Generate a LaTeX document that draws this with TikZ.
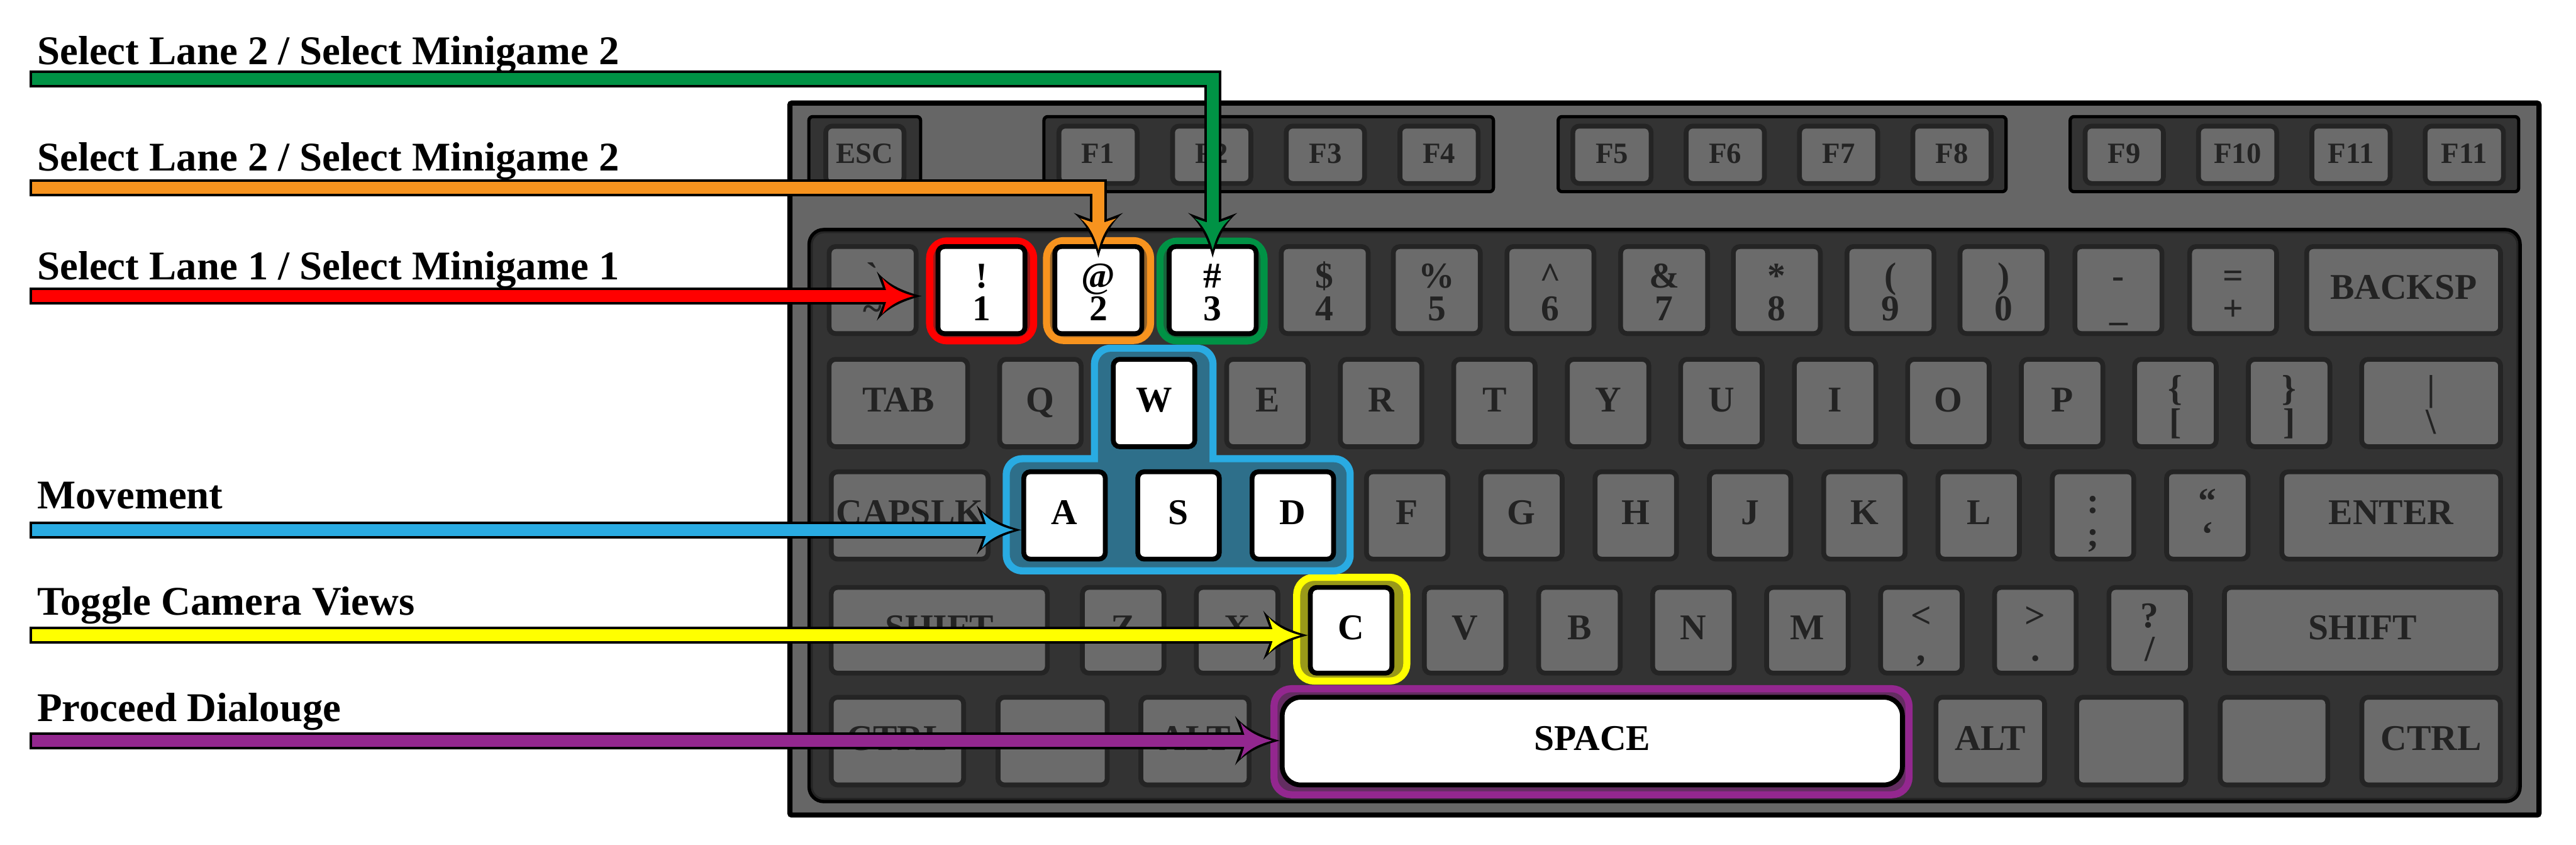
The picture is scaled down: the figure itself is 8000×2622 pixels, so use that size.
\documentclass[tikz,border=0pt]{standalone}
\usepackage{fontspec}
\setmainfont{Liberation Serif}[Ligatures=TeXOff]
\usetikzlibrary{arrows.meta,calc}

\definecolor{kbcase}{HTML}{666666}
\definecolor{kbbg}{HTML}{333333}
\definecolor{kbrim}{HTML}{242424}
\definecolor{kbface}{HTML}{6B6B6B}
\definecolor{kbtext}{HTML}{232323}
\definecolor{kbred}{HTML}{FF0000}
\definecolor{kborange}{HTML}{F7931E}
\definecolor{kbgreen}{HTML}{009245}
\definecolor{kbblue}{HTML}{29ABE2}
\definecolor{kbyellow}{HTML}{FFFF00}
\definecolor{kbpurple}{HTML}{93278F}

\newcommand{\kbfont}{\fontsize{32}{36}\selectfont\bfseries}
\newcommand{\kbsmall}{\fontsize{26}{30}\selectfont\bfseries}
\newcommand{\lblfont}{\fontsize{36}{40}\selectfont\bfseries}
% two symbols on one key
\newcommand{\kbtwo}[2]{\makebox[0pt]{\raisebox{1.03cm}{#1}}\makebox[0pt]{#2}}

% arrow head with curved sides
\newdimen\kbdim
\pgfdeclarearrow{
  name = Barb,
  defaults = {length = 10pt, width = 10pt, inset = 2pt},
  parameters = {\the\pgfarrowlength,\the\pgfarrowwidth,\the\pgfarrowinset},
  setup code = {
    \pgfarrowssettipend{0pt}
    \kbdim=-\pgfarrowlength
    \pgfarrowssetbackend{\kbdim}
    \kbdim=-.6\pgfarrowlength
    \pgfarrowssetlineend{\kbdim}
    \pgfarrowssavethe\pgfarrowlength
    \pgfarrowssavethe\pgfarrowwidth
    \pgfarrowssavethe\pgfarrowinset
  },
  drawing code = {
    \pgfpathmoveto{\pgfqpoint{0pt}{0pt}}
    \pgfpathcurveto
      {\pgfqpoint{-.35\pgfarrowlength}{.08\pgfarrowwidth}}
      {\pgfqpoint{-.75\pgfarrowlength}{.22\pgfarrowwidth}}
      {\pgfqpoint{-\pgfarrowlength}{.5\pgfarrowwidth}}
    \pgfpathlineto{\pgfqpoint{\dimexpr\pgfarrowinset-\pgfarrowlength\relax}{0pt}}
    \pgfpathlineto{\pgfqpoint{-\pgfarrowlength}{-.5\pgfarrowwidth}}
    \pgfpathcurveto
      {\pgfqpoint{-.75\pgfarrowlength}{-.22\pgfarrowwidth}}
      {\pgfqpoint{-.35\pgfarrowlength}{-.08\pgfarrowwidth}}
      {\pgfqpoint{0pt}{0pt}}
    \pgfpathclose
    \pgfusepathqfill
  }
}

\begin{document}
\begin{tikzpicture}[x=0.01cm, y=-0.01cm,
  key/.style={draw=kbrim, fill=kbface, line width=0.15cm, rounded corners=0.2cm,
    inner sep=0pt, minimum width=2.53cm, minimum height=2.71cm,
    text=kbtext, font=\kbfont, text height=0.56cm, text depth=0pt},
  numkey/.style={key, minimum width=2.70cm, minimum height=2.70cm},
  two/.style={text height=1.91cm},
  fkey/.style={key, minimum width=2.43cm, minimum height=1.78cm,
    font=\kbsmall, text height=0.52cm},
  hot/.style={draw=black, fill=white, text=black},
  fgroup/.style={line width=0.10cm, fill=kbbg, rounded corners=0.12cm},
  hlbox/.style={draw=#1, fill=#1!50!kbbg, line width=0.22cm,
    rounded corners=0.54cm, inner sep=0pt},
  lbl/.style={font=\lblfont, anchor=base west, inner sep=0pt},
  outarrow/.style={draw=black, line width=0.53cm,
    -{Barb[length=1.39cm, width=1.53cm, inset=0.29cm]}},
  inarrow/.style={draw=#1, line width=0.37cm, shorten <=0.08cm, shorten >=0.24cm,
    -{Barb[length=0.98cm, width=1.12cm, inset=0.18cm]}}]

\useasboundingbox (0,0) rectangle (8000,2622);

% Case and key areas
\draw[line width=0.16cm, fill=kbcase, rounded corners=0.06cm] (2453,320) rectangle (7885,2530);
\draw[line width=0.11cm, fill=kbbg, rounded corners=0.45cm] (2513,713) rectangle (7826,2488);
\draw[kbrim, line width=0.06cm, rounded corners=0.38cm] (2521,721) rectangle (7818,2480);

\draw[fgroup] (2512,362) rectangle (2859,595);
\draw[fgroup] (3242,362) rectangle (4638,595);
\draw[fgroup] (4839,362) rectangle (6230,595);
\draw[fgroup] (6429,362) rectangle (7822,595);

% Highlights
\node[hlbox=kbred, minimum width=3.23cm, minimum height=3.10cm] (hlone) at (3048.5,903) {};
\node[hlbox=kborange, minimum width=3.23cm, minimum height=3.10cm] (hltwo) at (3411.5,902) {};
\node[hlbox=kbgreen, minimum width=3.23cm, minimum height=3.10cm] (hlthree) at (3764,903.5) {};
\node[hlbox=kbyellow, minimum width=3.42cm, minimum height=3.22cm] (hlc) at (4198,1953) {};
\node[hlbox=kbpurple, minimum width=19.71cm, minimum height=3.29cm] (hlspace) at (4942.5,2302.5) {};

% WASD block
\fill[kbblue, rounded corners=0.6cm] (3388,1070) rectangle (3778,1500);
\fill[kbblue, rounded corners=0.6cm] (3114,1413) rectangle (4204,1783);
\fill[kbblue!50!kbbg, rounded corners=0.4cm] (3410,1092) rectangle (3756,1500);
\fill[kbblue!50!kbbg, rounded corners=0.4cm] (3136,1435) rectangle (4182,1761);

% Function row
\node[fkey] (kesc) at (2686,480.5) {ESC};
\node[fkey] (kfone) at (3410,480.5) {F1};
\node[fkey] (kftwo) at (3763,480.5) {F2};
\node[fkey] (kfthree) at (4116,480.5) {F3};
\node[fkey] (kffour) at (4469,480.5) {F4};
\node[fkey] (kffive) at (5006,480.5) {F5};
\node[fkey] (kfsix) at (5358,480.5) {F6};
\node[fkey] (kfseven) at (5710,480.5) {F7};
\node[fkey] (kfeight) at (6062,480.5) {F8};
\node[fkey] (kfnine) at (6597,480.5) {F9};
\node[fkey] (kften) at (6949,480.5) {F10};
\node[fkey] (kfeleven) at (7301,480.5) {F11};
\node[fkey] (kftwelve) at (7653,480.5) {F11};

% Number row
\node[numkey, two] (kgrave) at (2710,900.5) {\kbtwo{`}{\textasciitilde}};
\node[numkey, two, hot] (kone) at (3048,900.5) {\kbtwo{!}{1}};
\node[numkey, two, hot] (ktwo) at (3411,900.5) {\kbtwo{@}{2}};
\node[numkey, two, hot] (kthree) at (3766,900.5) {\kbtwo{\#}{3}};
\node[numkey, two] (kfour) at (4114,900.5) {\kbtwo{\$}{4}};
\node[numkey, two] (kfive) at (4462,900.5) {\kbtwo{\%}{5}};
\node[numkey, two] (ksix) at (4815,900.5) {\kbtwo{\textasciicircum}{6}};
\node[numkey, two] (kseven) at (5168,900.5) {\kbtwo{\&}{7}};
\node[numkey, two] (keight) at (5518,900.5) {\kbtwo{*}{8}};
\node[numkey, two] (knine) at (5871,900.5) {\kbtwo{(}{9}};
\node[numkey, two] (kzero) at (6222,900.5) {\kbtwo{)}{0}};
\node[numkey, two] (kminus) at (6579,900.5) {\kbtwo{-}{\_}};
\node[numkey, two] (kequal) at (6935,900.5) {\kbtwo{=}{+}};
\node[numkey, minimum width=6.02cm] (kback) at (7464.5,900.5) {BACKSP};

% Q row
\node[key, minimum width=4.30cm] (ktab) at (2790,1251) {TAB};
\node[key] (kq) at (3231,1251) {Q};
\node[key, hot] (kw) at (3584,1251) {W};
\node[key] (ke) at (3936,1251) {E};
\node[key] (kr) at (4289,1251) {R};
\node[key] (kt) at (4641,1251) {T};
\node[key] (ky) at (4994,1251) {Y};
\node[key] (ku) at (5346,1251) {U};
\node[key] (ki) at (5699,1251) {I};
\node[key] (ko) at (6051,1251) {O};
\node[key] (kp) at (6404,1251) {P};
\node[key, two] (klbrace) at (6756,1251) {\kbtwo{\{}{[}};
\node[key, two] (krbrace) at (7109,1251) {\kbtwo{\}}{]}};
\node[key, two, minimum width=4.31cm] (kbslash) at (7550,1251) {\kbtwo{|}{\textbackslash}};

% A row
\node[key, minimum width=4.87cm] (kcaps) at (2825,1600) {CAPSLK};
\node[key, hot] (ka) at (3306,1600) {A};
\node[key, hot] (ks) at (3660,1600) {S};
\node[key, hot] (kd) at (4015,1600) {D};
\node[key] (kf) at (4370,1600) {F};
\node[key] (kg) at (4725,1600) {G};
\node[key] (kh) at (5080,1600) {H};
\node[key] (kj) at (5435,1600) {J};
\node[key] (kk) at (5790,1600) {K};
\node[key] (kl) at (6145,1600) {L};
\node[key, two] (ksemi) at (6500,1600) {\kbtwo{:}{;}};
\node[key, two] (kquote) at (6855,1600) {\kbtwo{“}{‘}};
\node[key, minimum width=6.79cm] (kenter) at (7426,1600) {ENTER};

% Z row
\node[key, minimum width=6.71cm, minimum height=2.66cm] (klshift) at (2917,1956.5) {SHIFT};
\node[key, minimum height=2.66cm] (kz) at (3488,1956.5) {Z};
\node[key, minimum height=2.66cm] (kx) at (3842,1956.5) {X};
\node[key, hot, minimum height=2.66cm] (kc) at (4196,1956.5) {C};
\node[key, minimum height=2.66cm] (kv) at (4550,1956.5) {V};
\node[key, minimum height=2.66cm] (kb) at (4905,1956.5) {B};
\node[key, minimum height=2.66cm] (kn) at (5259,1956.5) {N};
\node[key, minimum height=2.66cm] (km) at (5613,1956.5) {M};
\node[key, two, minimum height=2.66cm] (kcomma) at (5967,1956.5) {\kbtwo{<}{,}};
\node[key, two, minimum height=2.66cm] (kperiod) at (6321,1956.5) {\kbtwo{>}{.}};
\node[key, two, minimum height=2.66cm] (kslash) at (6676,1956.5) {\kbtwo{?}{/}};
\node[key, minimum width=8.57cm, minimum height=2.66cm] (krshift) at (7337,1956.5) {SHIFT};

% Bottom row
\node[key, minimum width=4.11cm, minimum height=2.72cm] (klctrl) at (2787,2300.5) {CTRL};
\node[key, minimum width=3.39cm, minimum height=2.72cm] (klwin) at (3269,2300.5) {};
\node[key, minimum width=3.36cm, minimum height=2.72cm] (klalt) at (3711,2300.5) {ALT};
\node[key, hot, minimum width=19.25cm, minimum height=2.72cm, rounded corners=0.58cm] (kspace) at (4945,2300.5) {SPACE};
\node[key, minimum width=3.37cm, minimum height=2.72cm] (kralt) at (6181,2300.5) {ALT};
\node[key, minimum width=3.39cm, minimum height=2.72cm] (krwin) at (6619,2300.5) {};
\node[key, minimum width=3.34cm, minimum height=2.72cm] (kmenu) at (7062,2300.5) {};
\node[key, minimum width=4.30cm, minimum height=2.72cm] (krctrl) at (7550,2300.5) {CTRL};

% Labels
\node[lbl] (lgreen) at (115,200) {Select Lane 2 / Select Minigame 2};
\node[lbl] (lorange) at (115,531) {Select Lane 2 / Select Minigame 2};
\node[lbl] (lred) at (115,869) {Select Lane 1 / Select Minigame 1};
\node[lbl] (lblue) at (115,1580) {Movement};
\node[lbl] (lyellow) at (115,1909) {Toggle Camera Views};
\node[lbl] (lpurple) at (115,2239) {Proceed Dialouge};

\coordinate (sgreen) at (92,245);
\coordinate (sorange) at (92,583);
\coordinate (sred) at (92,919);
\coordinate (sblue) at (92,1645);
\coordinate (syellow) at (92,1972);
\coordinate (spurple) at (92,2299);

% Arrows
\draw[outarrow] (sgreen) -| ([yshift=-4.2mm]kthree.north);
\draw[inarrow=kbgreen] (sgreen) -| ([yshift=-4.2mm]kthree.north);
\draw[outarrow] (sorange) -| ([yshift=-4.2mm]ktwo.north);
\draw[inarrow=kborange] (sorange) -| ([yshift=-4.2mm]ktwo.north);
\draw[outarrow] (sred) -- ($(sred -| hlone.west)+(-14,0)$);
\draw[inarrow=kbred] (sred) -- ($(sred -| hlone.west)+(-14,0)$);
\draw[outarrow] (sblue) -- (sblue -| ka.west);
\draw[inarrow=kbblue] (sblue) -- (sblue -| ka.west);
\draw[outarrow] (syellow) -- (syellow -| kc.west);
\draw[inarrow=kbyellow] (syellow) -- (syellow -| kc.west);
\draw[outarrow] (spurple) -- (spurple -| kspace.west);
\draw[inarrow=kbpurple] (spurple) -- (spurple -| kspace.west);

\end{tikzpicture}
\end{document}
